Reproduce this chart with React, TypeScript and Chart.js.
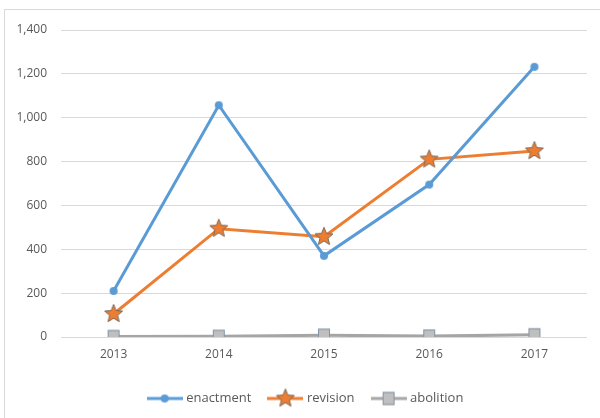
import React, { useEffect, useRef } from 'react';
import { Chart, registerables } from 'chart.js';

Chart.register(...registerables);

const categories = ['2013', '2014', '2015', '2016', '2017'];
const enactment = [210, 1057, 370, 695, 1232];
const revision = [105, 494, 457, 810, 848];
const abolition = [2, 3, 8, 4, 10];
const seriesNames = ['enactment', 'revision', 'abolition'];
const yMin = 0;
const yMax = 1400;
const yStep = 200;

const BLUE = '#5b9bd5';
const ORANGE = '#ed7d31';
const GRAY = '#a5a5a5';
const TEXT = '#595959';
const GRID = '#d9d9d9';
const FONT = "'Open Sans', 'Liberation Sans', sans-serif";

function makeCanvas(w: number, h: number, draw: (ctx: CanvasRenderingContext2D) => void) {
  const c = document.createElement('canvas');
  c.width = w;
  c.height = h;
  const ctx = c.getContext('2d')!;
  draw(ctx);
  return c;
}

function drawCircle(ctx: CanvasRenderingContext2D, cx: number, cy: number) {
  ctx.beginPath();
  ctx.arc(cx, cy, 4, 0, Math.PI * 2);
  ctx.fillStyle = BLUE;
  ctx.fill();
}

function drawStar(ctx: CanvasRenderingContext2D, cx: number, cy: number) {
  const R = 9.5;
  const r = 4.2;
  ctx.beginPath();
  for (let i = 0; i < 10; i++) {
    const rad = i % 2 === 0 ? R : r;
    const a = -Math.PI / 2 + (i * Math.PI) / 5;
    const x = cx + rad * Math.cos(a);
    const y = cy + rad * Math.sin(a);
    if (i === 0) ctx.moveTo(x, y);
    else ctx.lineTo(x, y);
  }
  ctx.closePath();
  ctx.fillStyle = ORANGE;
  ctx.fill();
  ctx.lineWidth = 1;
  ctx.strokeStyle = '#7a6a5a';
  ctx.stroke();
}

function drawSquare(ctx: CanvasRenderingContext2D, cx: number, cy: number) {
  ctx.fillStyle = '#bfbfbf';
  ctx.fillRect(cx - 6, cy - 6.5, 12, 13);
  ctx.lineWidth = 1;
  ctx.strokeStyle = '#8394a8';
  ctx.strokeRect(cx - 6 + 0.5, cy - 6.5 + 0.5, 11, 12);
}

const markers = [drawCircle, drawStar, drawSquare];
const colors = [BLUE, ORANGE, GRAY];

function pointImage(i: number) {
  return makeCanvas(22, 22, (ctx) => markers[i](ctx, 11, 11));
}

function legendImage(i: number) {
  return makeCanvas(36, 22, (ctx) => {
    ctx.strokeStyle = colors[i];
    ctx.lineWidth = 3;
    ctx.beginPath();
    ctx.moveTo(0, 11);
    ctx.lineTo(36, 11);
    ctx.stroke();
    markers[i](ctx, 18, 11);
  });
}

const shiftLegend = {
  id: 'shiftLegend',
  afterLayout(chart: any) {
    const lg = chart.legend;
    if (lg) {
      lg.left += 13;
      lg.right += 13;
    }
  },
};

export default function App() {
  const ref = useRef<HTMLCanvasElement>(null);

  useEffect(() => {
    const pts = [0, 1, 2].map(pointImage);
    const legs = [0, 1, 2].map(legendImage);
    const values = [enactment, revision, abolition];
    const chart = new Chart(ref.current!, {
      type: 'line',
      data: {
        labels: categories,
        datasets: values.map((v, i) => ({
          label: seriesNames[i],
          data: v,
          borderColor: colors[i],
          backgroundColor: colors[i],
          borderWidth: 3,
          tension: 0,
          pointStyle: pts[i] as any,
          pointRadius: 6,
          fill: false,
        })),
      },
      plugins: [shiftLegend],
      options: {
        responsive: false,
        animation: false,
        devicePixelRatio: 1,
        layout: { padding: { left: 0, right: 13, top: 30, bottom: 0 } },
        plugins: {
          tooltip: { enabled: false },
          legend: {
            position: 'bottom',
            labels: {
              usePointStyle: true,
              pointStyleWidth: 30,
              padding: 19,
              color: TEXT,
              font: { family: FONT, size: 13 },
              generateLabels: (c: any) =>
                c.data.datasets.map((d: any, i: number) => ({
                  text: d.label,
                  pointStyle: legs[i],
                  fillStyle: colors[i],
                  strokeStyle: colors[i],
                  lineWidth: 0,
                  hidden: false,
                  datasetIndex: i,
                  fontColor: TEXT,
                })),
            },
          },
        },
        scales: {
          x: {
            offset: true,
            grid: { display: false, drawTicks: false },
            border: { display: false },
            ticks: { color: TEXT, font: { family: FONT, size: 12 }, padding: 10 },
            afterFit: (s: any) => {
              s.height = 36;
            },
          },
          y: {
            min: yMin,
            max: yMax,
            ticks: {
              stepSize: yStep,
              color: TEXT,
              font: { family: FONT, size: 12 },
              padding: 14,
              callback: (v: any) => Number(v).toLocaleString('en-US'),
            },
            grid: { color: GRID, lineWidth: 1, drawTicks: false },
            border: { display: false },
            afterFit: (s: any) => {
              s.width = 61;
            },
          },
        },
      },
    });
    return () => chart.destroy();
  }, []);

  return (
    <div
      style={{
        position: 'fixed',
        left: 0,
        top: 0,
        width: 600,
        height: 418,
        overflow: 'hidden',
        background: '#fff',
      }}
    >
      <div
        style={{
          position: 'absolute',
          left: 4,
          top: 9,
          width: 700,
          height: 500,
          borderLeft: '1px solid #d9d9d9',
          borderTop: '1px solid #d9d9d9',
        }}
      />
      <canvas
        ref={ref}
        width={600}
        height={415}
        style={{ position: 'absolute', left: 0, top: 0, width: 600, height: 415 }}
      />
    </div>
  );
}
